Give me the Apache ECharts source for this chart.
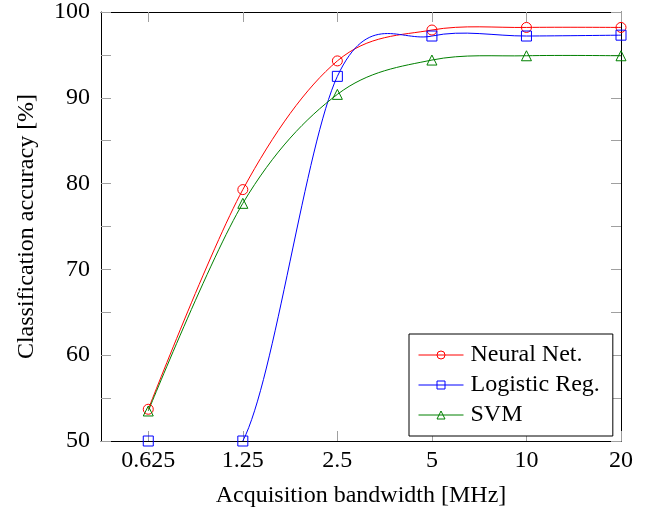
<!DOCTYPE html>
<html>
<head>
<meta charset="utf-8">
<script src="https://cdn.jsdelivr.net/npm/echarts@6/dist/echarts.min.js"></script>
<style>
  html, body { margin: 0; padding: 0; background: #fff; }
  #chart { width: 652px; height: 516px; }
</style>
</head>
<body>
<div id="chart"></div>
<script>
// bandwidths, evenly spaced on a log2 scale
var bandwidths = ['0.625', '1.25', '2.5', '5', '10', '20'];
var neuralNet = [53.7, 79.3, 94.3, 97.9, 98.2, 98.2];
var logisticReg = [50, 50, 92.5, 97.2, 97.2, 97.3];
var svm = [53.5, 77.7, 90.4, 94.4, 94.9, 94.9];
var yTicks = [50, 60, 70, 80, 90, 100];

var tickPos = bandwidths.map(function (b, i) { return i; });

function toPoints(arr) {
    return arr.map(function (v, i) { return [i, v]; });
}

var font = 'Liberation Serif';
var tickColor = '#a0a0a0';
var tension = 0.165;

// smooth curve like pgfplots "smooth", control points from the neighbours
function curveItem(values, color) {
    return function (params, api) {
        var p = values.map(function (v, i) { return api.coord([i, v]); });
        var n = p.length;
        var d = 'M' + p[0][0] + ' ' + p[0][1];
        for (var i = 0; i < n - 1; i++) {
            var a = p[i], b = p[i + 1];
            var c1 = a, c2 = b;
            if (i > 0) {
                c1 = [a[0] + tension * (b[0] - p[i - 1][0]), a[1] + tension * (b[1] - p[i - 1][1])];
            }
            if (i + 2 < n) {
                c2 = [b[0] - tension * (p[i + 2][0] - a[0]), b[1] - tension * (p[i + 2][1] - a[1])];
            }
            d += ' C' + c1[0] + ' ' + c1[1] + ' ' + c2[0] + ' ' + c2[1] + ' ' + b[0] + ' ' + b[1];
        }
        return {
            type: 'path',
            shape: { pathData: d },
            style: { fill: 'none', stroke: color, lineWidth: 1 }
        };
    };
}

var myChart = echarts.init(document.getElementById('chart'));

var xBase = {
    type: 'value',
    min: -0.5,
    max: 5,
    axisLine: { show: true, onZero: false, lineStyle: { color: '#000', width: 1 } },
    axisTick: { show: true, inside: true, length: 10, customValues: tickPos,
        lineStyle: { color: tickColor } },
    splitLine: { show: false }
};
var yBase = {
    type: 'value',
    min: 50,
    max: 100,
    interval: 5,
    axisLine: { show: true, onZero: false, lineStyle: { color: '#000', width: 1 } },
    axisTick: { show: true, inside: true, length: 10, lineStyle: { color: tickColor } },
    splitLine: { show: false }
};

var colors = { nn: '#ff0000', lr: '#0000ff', svm: '#008000' };

var option = {
    animation: false,
    backgroundColor: '#fff',
    grid: { left: 101, right: 31, top: 12, bottom: 75 },
    legend: {
        orient: 'vertical',
        left: 409,
        top: 334,
        backgroundColor: '#fff',
        borderColor: '#000',
        borderWidth: 1,
        borderRadius: 0,
        padding: [9, 13, 9, 9],
        itemWidth: 45,
        itemHeight: 10,
        itemGap: 6,
        lineStyle: { opacity: 1, width: 1 },
        itemStyle: { borderWidth: 1 },
        textStyle: { fontFamily: font, fontSize: 24, lineHeight: 24, color: '#000', padding: [0, 0, 0, 2] },
        data: ['Neural Net.', 'Logistic Reg.', 'SVM']
    },
    xAxis: [
        Object.assign({}, xBase, {
            position: 'bottom',
            name: 'Acquisition bandwidth [MHz]',
            nameLocation: 'middle',
            nameGap: 43,
            nameTextStyle: { fontFamily: font, fontSize: 24, color: '#000' },
            axisLabel: {
                customValues: tickPos,
                margin: 8,
                fontFamily: font, fontSize: 24, color: '#000',
                formatter: function (v) { return bandwidths[Math.round(v)]; }
            }
        }),
        Object.assign({}, xBase, { position: 'top', axisLabel: { show: false } })
    ],
    yAxis: [
        Object.assign({}, yBase, {
            position: 'left',
            name: 'Classification accuracy [%]',
            nameLocation: 'middle',
            nameGap: 62,
            nameTextStyle: { fontFamily: font, fontSize: 24, color: '#000' },
            axisLabel: {
                margin: 11,
                fontFamily: font, fontSize: 24, color: '#000',
                formatter: function (v) { return yTicks.indexOf(v) >= 0 ? String(v) : ''; }
            }
        }),
        Object.assign({}, yBase, { position: 'right', axisLabel: { show: false } })
    ],
    series: [
        { name: 'nn-curve', type: 'custom', clip: true, silent: true,
          data: [[0, neuralNet[0]]], renderItem: curveItem(neuralNet, colors.nn) },
        { name: 'lr-curve', type: 'custom', clip: true, silent: true,
          data: [[0, logisticReg[0]]], renderItem: curveItem(logisticReg, colors.lr) },
        { name: 'svm-curve', type: 'custom', clip: true, silent: true,
          data: [[0, svm[0]]], renderItem: curveItem(svm, colors.svm) },
        {
            name: 'Neural Net.',
            type: 'line',
            data: toPoints(neuralNet),
            symbol: 'circle',
            symbolSize: 10,
            color: colors.nn,
            lineStyle: { color: colors.nn, width: 1, opacity: 0 },
            itemStyle: { color: 'rgba(255,255,255,0)', borderColor: colors.nn, borderWidth: 1 }
        },
        {
            name: 'Logistic Reg.',
            type: 'line',
            data: toPoints(logisticReg),
            symbol: 'rect',
            symbolSize: 10,
            color: colors.lr,
            lineStyle: { color: colors.lr, width: 1, opacity: 0 },
            itemStyle: { color: 'rgba(255,255,255,0)', borderColor: colors.lr, borderWidth: 1 }
        },
        {
            name: 'SVM',
            type: 'line',
            data: toPoints(svm),
            symbol: 'triangle',
            symbolSize: 10,
            color: colors.svm,
            lineStyle: { color: colors.svm, width: 1, opacity: 0 },
            itemStyle: { color: 'rgba(255,255,255,0)', borderColor: colors.svm, borderWidth: 1 }
        }
    ]
};

myChart.setOption(option);
</script>
</body>
</html>
